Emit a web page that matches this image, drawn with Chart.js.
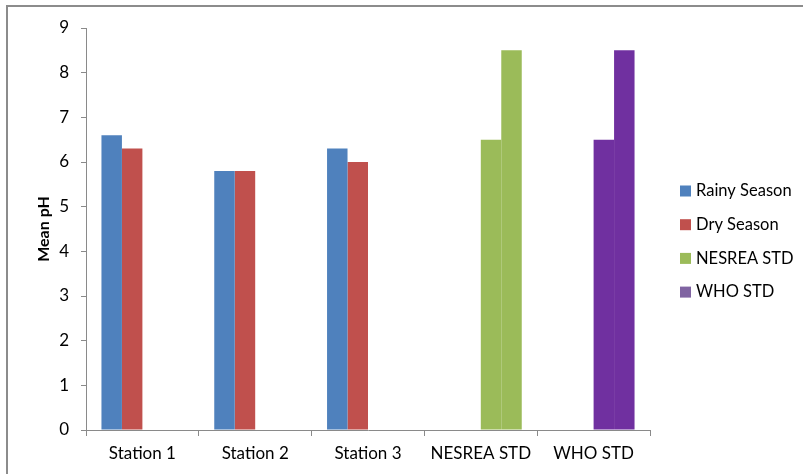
<!DOCTYPE html>
<html>
<head>
<meta charset="utf-8">
<script src="https://cdn.jsdelivr.net/npm/chart.js@4.4.1/dist/chart.umd.min.js"></script>
<style>
  html, body { margin: 0; padding: 0; background: #fff; }
  #wrap { width: 803px; height: 474px; position: relative; }
</style>
</head>
<body>
<div id="wrap"><canvas id="c" width="803" height="474"></canvas></div>
<script>
// Mean pH per sampling station, with the NESREA and WHO permissible ranges
const categories = ['Station 1', 'Station 2', 'Station 3', 'NESREA STD', 'WHO STD'];
const rainySeason = [6.6, 5.8, 6.3, null, null];
const drySeason = [6.3, 5.8, 6.0, null, null];
const stdLowerLimit = [null, null, null, 6.5, 6.5];
const stdUpperLimit = [null, null, null, 8.5, 8.5];
const seriesNames = ['Rainy Season', 'Dry Season', 'NESREA STD', 'WHO STD'];
const yTicks = [0, 1, 2, 3, 4, 5, 6, 7, 8, 9];

const legendColors = ['#4F81BD', '#C0504D', '#9BBB59', '#8064A2'];
// the range bars take the colour of the standard they belong to
const rangeColors = ['#9BBB59', '#9BBB59', '#9BBB59', '#9BBB59', '#7030A0'];

const FONT = 'Lato, "Open Sans", "DejaVu Sans", sans-serif';
const AXIS_GREY = '#8a8a8a';

// frame around the whole chart
const framePlugin = {
  id: 'frame',
  beforeDraw(chart) {
    const ctx = chart.ctx;
    ctx.save();
    ctx.strokeStyle = '#8c8c8c';
    ctx.lineWidth = 2;
    ctx.strokeRect(7, 6, chart.width + 20, chart.height + 20);
    ctx.restore();
  }
};

// legend block to the right of the plot
const sideLegend = {
  id: 'sideLegend',
  afterDraw(chart) {
    const ctx = chart.ctx;
    ctx.save();
    ctx.font = '16.5px ' + FONT;
    ctx.textBaseline = 'middle';
    ctx.textAlign = 'left';
    const x = 680, y0 = 191, step = 33.7;
    seriesNames.forEach((name, i) => {
      const y = y0 + i * step;
      ctx.fillStyle = legendColors[i];
      ctx.fillRect(x, y - 5.5, 11, 11);
      ctx.fillStyle = '#000';
      ctx.fillText(name, x + 16, y);
    });
    ctx.restore();
  }
};

new Chart(document.getElementById('c'), {
  type: 'bar',
  data: {
    labels: categories,
    datasets: [
      { label: seriesNames[0], data: rainySeason, backgroundColor: legendColors[0] },
      { label: seriesNames[1], data: drySeason, backgroundColor: legendColors[1] },
      { label: seriesNames[2], data: stdLowerLimit, backgroundColor: rangeColors },
      { label: seriesNames[3], data: stdUpperLimit, backgroundColor: rangeColors }
    ]
  },
  options: {
    responsive: false,
    animation: false,
    layout: { padding: { left: 30, top: 28, right: 153, bottom: 0 } },
    datasets: {
      bar: { categoryPercentage: 0.726, barPercentage: 1.0, borderWidth: 0 }
    },
    plugins: {
      legend: { display: false },
      tooltip: { enabled: false }
    },
    scales: {
      x: {
        grid: {
          display: true, drawOnChartArea: false, drawTicks: true,
          tickLength: 6, color: AXIS_GREY, offset: true
        },
        border: { display: true, color: AXIS_GREY, width: 1 },
        ticks: { color: '#000', font: { family: FONT, size: 17 }, padding: 7, maxRotation: 0 },
        afterFit(scale) { scale.height = 44; }
      },
      y: {
        min: 0,
        max: 9,
        afterBuildTicks(scale) { scale.ticks = yTicks.map(v => ({ value: v })); },
        grid: {
          display: true, drawOnChartArea: false, drawTicks: true,
          tickLength: 5, color: AXIS_GREY
        },
        border: { display: true, color: AXIS_GREY, width: 1 },
        ticks: { color: '#000', font: { family: FONT, size: 17 }, padding: 12 },
        title: {
          display: true,
          text: 'Mean pH',
          color: '#000',
          font: { family: FONT, size: 16, weight: 'bold' },
          padding: { top: 4, bottom: 4 }
        },
        afterFit(scale) { scale.width = 56; }
      }
    }
  },
  plugins: [framePlugin, sideLegend]
});
</script>
</body>
</html>
